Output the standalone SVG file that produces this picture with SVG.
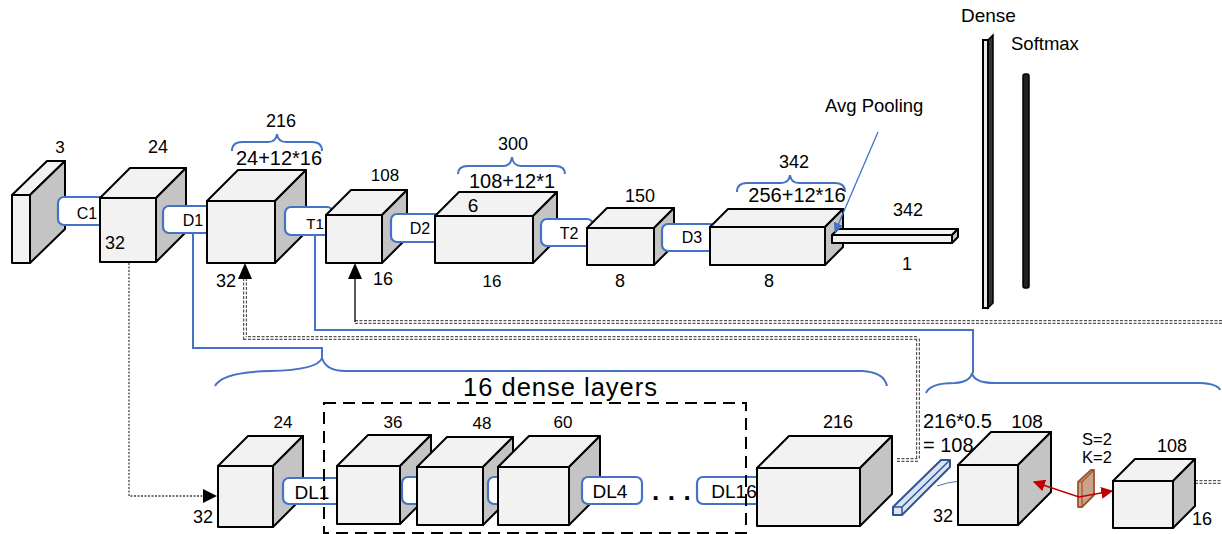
<svg xmlns="http://www.w3.org/2000/svg" width="1222" height="534" viewBox="0 0 1222 534">
<style>
.f{fill:#f2f2f2;stroke:#000;stroke-width:2;stroke-linejoin:round}
.s{fill:#c4c4c4;stroke:#000;stroke-width:2;stroke-linejoin:round}
.c{fill:#fff;stroke:#4472c4;stroke-width:2.2}
.b{fill:none;stroke:#4472c4;stroke-width:2}
.t{font-family:"Liberation Sans",Arial,sans-serif;fill:#000}
.m{text-anchor:middle}
.dd{fill:none;stroke:#555;stroke-width:4;stroke-dasharray:3 1.5}
.dw{fill:none;stroke:#fff;stroke-width:1.6}
</style>
<defs>
<marker id="ab" viewBox="0 0 10 10" refX="9" refY="5" markerWidth="10" markerHeight="10" markerUnits="userSpaceOnUse" orient="auto"><path d="M0,0 L10,5 L0,10 z" fill="#4472c4"/></marker>
<marker id="ar" viewBox="0 0 10 10" refX="9" refY="5" markerWidth="12" markerHeight="12" markerUnits="userSpaceOnUse" orient="auto-start-reverse"><path d="M0,0 L10,5 L0,10 z" fill="#c00000"/></marker>
</defs>

<g id="connectors">
  <path d="M129,263 V496 H204" fill="none" stroke="#444" stroke-width="1.3" stroke-dasharray="2 1.5"/>
  <polygon points="203,489 217,496 203,503" fill="#000"/>
  <path class="dd" d="M897,460 H918 V338 H245 V278"/>
  <path class="dw" d="M897,460 H918 V338 H245 V278"/>
  <polygon points="238,279 245,263 252,279" fill="#000"/>
  <path class="dd" d="M1222,322 H355"/>
  <path class="dw" d="M1222,322 H355"/>
  <path d="M355,322 V278" stroke="#000" stroke-width="1.3" fill="none"/>
  <polygon points="348,279 355,263 362,279" fill="#000"/>
  <path class="dd" d="M1195,482 H1222"/>
  <path class="dw" d="M1195,482 H1222"/>
  <path class="b" d="M193,233 V348 H322 V358"/>
  <path class="b" d="M315,235 V330 H973 V373"/>
  <path class="b" d="M232,151 Q232,142 242,142 L268,142 Q276,142 277,134 Q278,142 286,142 L312,142 Q322,142 322,151"/>
  <path class="b" d="M458,174 Q458,166 468,166 L503,166 Q511,166 512,157 Q513,166 521,166 L555,166 Q565,166 565,174"/>
  <path class="b" d="M737,192 Q737,183 747,183 L781,183 Q789,183 790,175 Q791,183 799,183 L835,183 Q845,183 845,192"/>
  <path class="b" d="M215,386 Q222,372 270,371 Q318,370 322,358 Q326,371 345,371 L862,371 Q884,372 887,386"/>
  <path class="b" d="M926,393 Q930,383 955,383 Q970,382 972,373 Q974,383 995,383 L1200,383 Q1218,384 1220,390"/>
</g>

<g id="n0"><polygon class="f" points="12,195 47,161 65,161 30,195"/><polygon class="s" points="30,195 65,161 65,229 30,263"/><rect class="f" x="12" y="195" width="18" height="68"/><text class="t m" x="60" y="153" style="font-size:17px">3</text></g>
<g id="c1"><rect class="c" x="58" y="197" width="50" height="28" rx="6"/><text class="t m" x="87" y="219" style="font-size:16px">C1</text></g>
<g id="n1"><polygon class="f" points="100,198 130,168 186,168 156,198"/><polygon class="s" points="156,198 186,168 186,232 156,262"/><rect class="f" x="100" y="198" width="56" height="64"/><text class="t m" x="158" y="153" style="font-size:18px">24</text><text class="t m" x="115" y="249" style="font-size:18px">32</text></g>
<g id="d1"><rect class="c" x="163" y="206" width="50" height="27" rx="6"/><text class="t m" x="193" y="226" style="font-size:16px">D1</text></g>
<g id="n2"><polygon class="f" points="207,201 238,170 306,170 275,201"/><polygon class="s" points="275,201 306,170 306,232 275,263"/><rect class="f" x="207" y="201" width="68" height="62"/><text class="t m" x="281" y="127" style="font-size:18px">216</text><text class="t m" x="279" y="165" style="font-size:20px">24+12*16</text><text class="t m" x="226" y="287" style="font-size:18px">32</text></g>
<g id="t1"><rect class="c" x="285" y="207" width="48" height="28" rx="6"/><text class="t m" x="315" y="229" style="font-size:15px">T1</text></g>
<g id="n3"><polygon class="f" points="326,215 351,190 407,190 382,215"/><polygon class="s" points="382,215 407,190 407,238 382,263"/><rect class="f" x="326" y="215" width="56" height="48"/><text class="t m" x="385" y="181" style="font-size:17px">108</text><text class="t m" x="383" y="285" style="font-size:18px">16</text></g>
<g id="d2"><rect class="c" x="391" y="214" width="50" height="28" rx="6"/><text class="t m" x="420" y="234" style="font-size:16px">D2</text></g>
<g id="n4"><polygon class="f" points="435,216 459,192 557,192 533,216"/><polygon class="s" points="533,216 557,192 557,239 533,263"/><rect class="f" x="435" y="216" width="98" height="47"/><text class="t m" x="473" y="212" style="font-size:19px">6</text><text class="t m" x="492" y="287" style="font-size:17px">16</text><text class="t m" x="513" y="150" style="font-size:18px">300</text><text class="t m" x="512" y="188" style="font-size:20px">108+12*1</text></g>
<g id="t2"><rect class="c" x="541" y="219" width="52" height="27" rx="6"/><text class="t m" x="569" y="239" style="font-size:16px">T2</text></g>
<g id="n5"><polygon class="f" points="587,228 607,208 674,208 654,228"/><polygon class="s" points="654,228 674,208 674,245 654,265"/><rect class="f" x="587" y="228" width="67" height="37"/><text class="t m" x="640" y="202" style="font-size:18px">150</text><text class="t m" x="620" y="287" style="font-size:18px">8</text></g>
<g id="d3"><rect class="c" x="662" y="224" width="54" height="27" rx="6"/><text class="t m" x="692" y="243" style="font-size:16px">D3</text></g>
<g id="n6"><polygon class="f" points="710,227 728,209 843,209 825,227"/><polygon class="s" points="825,227 843,209 843,247 825,265"/><rect class="f" x="710" y="227" width="115" height="38"/><text class="t m" x="794" y="168" style="font-size:18px">342</text><text class="t m" x="797" y="202" style="font-size:20px">256+12*16</text><text class="t m" x="769" y="287" style="font-size:18px">8</text></g>
<g id="pool"><polygon class="f" points="832,235 838,229 958,229 952,235"/><polygon class="s" points="952,235 958,229 958,237 952,243"/><rect class="f" x="832" y="235" width="120" height="8"/><text class="t m" x="908" y="216" style="font-size:18px">342</text><text class="t m" x="907" y="270" style="font-size:18px">1</text><text class="t" x="825" y="112" style="font-size:18.5px">Avg Pooling</text>
<path d="M878,132 L835,232" stroke="#4472c4" stroke-width="1.3" fill="none" marker-end="url(#ab)"/></g>
<g id="dense"><polygon points="988,40 993,35 993,303 988,308" fill="#333" stroke="#000" stroke-width="1.5"/><rect x="983" y="40" width="5" height="268" fill="#e8e8e8" stroke="#000" stroke-width="2"/><text class="t" x="961" y="22" style="font-size:19px">Dense</text></g>
<g id="softmax"><rect x="1023" y="74" width="6" height="214" rx="2" fill="#222" stroke="#000" stroke-width="1.5"/><text class="t" x="1011" y="50" style="font-size:18.5px">Softmax</text></g>

<g id="b1"><polygon class="f" points="218,466 248,436 303,436 273,466"/><polygon class="s" points="273,466 303,436 303,497 273,527"/><rect class="f" x="218" y="466" width="55" height="61"/><text class="t m" x="283" y="428" style="font-size:17px">24</text><text class="t m" x="203" y="523" style="font-size:18px">32</text></g>
<g id="dl1"><rect class="c" x="283" y="478" width="60" height="26" rx="6"/><text class="t m" x="312" y="499" style="font-size:19px">DL1</text></g>
<g id="b2"><polygon class="f" points="337,466 368,435 431,435 400,466"/><polygon class="s" points="400,466 431,435 431,493 400,524"/><rect class="f" x="337" y="466" width="63" height="58"/><text class="t m" x="393" y="428" style="font-size:17px">36</text></g>
<g id="dl2"><rect class="c" x="402" y="477" width="20" height="27" rx="6"/></g>
<g id="b3"><polygon class="f" points="417,467 447,437 513,437 483,467"/><polygon class="s" points="483,467 513,437 513,495 483,525"/><rect class="f" x="417" y="467" width="66" height="58"/><text class="t m" x="482" y="429" style="font-size:17px">48</text></g>
<g id="dl3"><rect class="c" x="488" y="477" width="16" height="27" rx="6"/></g>
<g id="b4"><polygon class="f" points="498,467 529,436 600,436 569,467"/><polygon class="s" points="569,467 600,436 600,494 569,525"/><rect class="f" x="498" y="467" width="71" height="58"/><text class="t m" x="563" y="428" style="font-size:17px">60</text></g>
<g id="dl4"><rect class="c" x="582" y="477" width="60" height="27" rx="6"/><text class="t m" x="610" y="498" style="font-size:19px">DL4</text></g>
<g id="dots"><text class="t" x="652" y="500" style="font-size:26px;font-weight:bold;letter-spacing:8.5px">...</text></g>
<g id="dl16"><rect class="c" x="697" y="477" width="66" height="27" rx="6"/><text class="t m" x="734" y="498" style="font-size:19px">DL16</text></g>
<g id="b5"><polygon class="f" points="757,468 789,436 892,436 860,468"/><polygon class="s" points="860,468 892,436 892,494 860,526"/><rect class="f" x="757" y="468" width="103" height="58"/><text class="t m" x="838" y="428" style="font-size:18px">216</text></g>
<g id="compress"><polygon points="893,507 941,460 950,460 950,467 902,515 893,515" fill="#dbe5f1" stroke="#2f5597" stroke-width="2" stroke-linejoin="round"/><path d="M893,507 H902 V515 M902,507 L950,460" fill="none" stroke="#2f5597" stroke-width="1.5"/><text class="t" x="923" y="428" style="font-size:20px">216*0.5</text><text class="t" x="923" y="452" style="font-size:20px">= 108</text>
<path d="M937,486 Q948,482 960,481" stroke="#4472c4" stroke-width="1" fill="none"/></g>
<g id="b6"><polygon class="f" points="958,465 991,432 1051,432 1018,465"/><polygon class="s" points="1018,465 1051,432 1051,492 1018,525"/><rect class="f" x="958" y="465" width="60" height="60"/><text class="t m" x="1027" y="428" style="font-size:19px">108</text><text class="t m" x="943" y="522" style="font-size:18px">32</text></g>
<g id="pool2"><polygon points="1078,482 1091,470 1094,470 1094,495 1082,507 1078,507" fill="#c9a48a" stroke="#a0522d" stroke-width="1.8" stroke-linejoin="round"/><path d="M1082,482 V507 M1078,482 H1082 L1094,470" fill="none" stroke="#a0522d" stroke-width="1.2"/><text class="t m" x="1097" y="445" style="font-size:16.5px">S=2</text><text class="t m" x="1097" y="463" style="font-size:16.5px">K=2</text></g>
<g id="poolarrow"><path d="M1034,482 L1079,497 L1112,491" fill="none" stroke="#c00000" stroke-width="1.5" marker-start="url(#ar)" marker-end="url(#ar)"/></g>
<g id="b7"><polygon class="f" points="1113,481 1135,459 1195,459 1173,481"/><polygon class="s" points="1173,481 1195,459 1195,506 1173,528"/><rect class="f" x="1113" y="481" width="60" height="47"/><text class="t m" x="1172" y="452" style="font-size:18px">108</text><text class="t m" x="1202" y="525" style="font-size:18px">16</text></g>

<g id="denseblock"><rect x="324" y="403" width="422" height="130" fill="none" stroke="#000" stroke-width="2" stroke-dasharray="12 7"/><text class="t" x="463" y="396" style="font-size:25.5px;letter-spacing:1px">16 dense layers</text></g>
</svg>
